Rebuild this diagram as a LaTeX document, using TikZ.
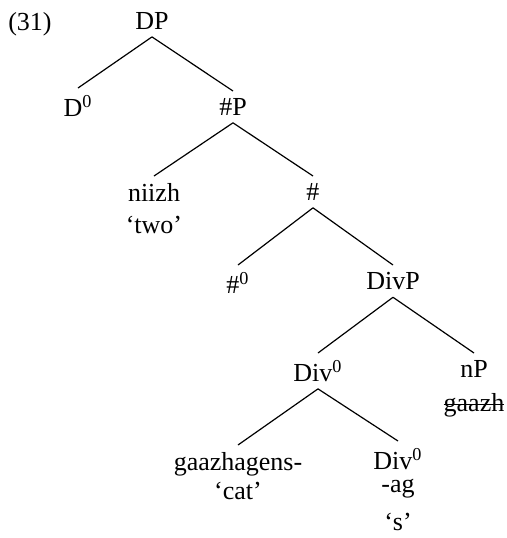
\documentclass[tikz,border=0pt]{standalone}
\usepackage{fontspec}
\setmainfont{Liberation Serif}

\newsavebox{\strikebox}
\newcommand{\struck}[1]{\sbox{\strikebox}{#1}\rlap{\rule[0.23em]{\wd\strikebox}{0.5pt}}\usebox{\strikebox}}

\begin{document}
\begin{tikzpicture}[x=0.5pt,y=-0.5pt,
  lab/.style={anchor=north,inner sep=3.5pt,align=center,font=\fontsize{13}{15}\selectfont},
  branch/.style={line width=0.6pt}]
\useasboundingbox (0,0) rectangle (507,538);

% example number
\node[lab] (exnum) at (30,5) {(31)};

% DP level
\node[lab] (dp) at (152,5) {DP};
\node[lab] (dzero) at (78,88) {D\textsuperscript{0}};
\node[lab] (numphr) at (233,91) {\#P};

% #P level
\node[lab] (niizh) at (154,176) {niizh\\[1pt]‘two’};
\node[lab] (numbar) at (313,176) {\#};

% # level
\node[lab] (numzero) at (238,265) {\#\textsuperscript{0}};
\node[lab] (divphr) at (393,265) {DivP};

% DivP level
\node[lab] (divzero) at (318,353) {Div\textsuperscript{0}};
\node[lab] (nphr) at (474,353) {nP\\[2pt]\struck{gaazh}};

% Div0 level
\node[lab] (cat) at (238,445) {gaazhagens-\\[-0.5pt]‘cat’};
\node[lab] (divlow) at (398,441) {Div\textsuperscript{0}\\[-3.5pt]-ag\\[4pt]‘s’};

% branches
\draw[branch] (dp.south) -- (dzero.north);
\draw[branch] (dp.south) -- (numphr.north);
\draw[branch] (numphr.south) -- (niizh.north);
\draw[branch] (numphr.south) -- (numbar.north);
\draw[branch] (numbar.south) -- (numzero.north);
\draw[branch] (numbar.south) -- (divphr.north);
\draw[branch] (divphr.south) -- (divzero.north);
\draw[branch] (divphr.south) -- (nphr.north);
\draw[branch] (divzero.south) -- (cat.north);
\draw[branch] (divzero.south) -- (divlow.north);
\end{tikzpicture}
\end{document}
